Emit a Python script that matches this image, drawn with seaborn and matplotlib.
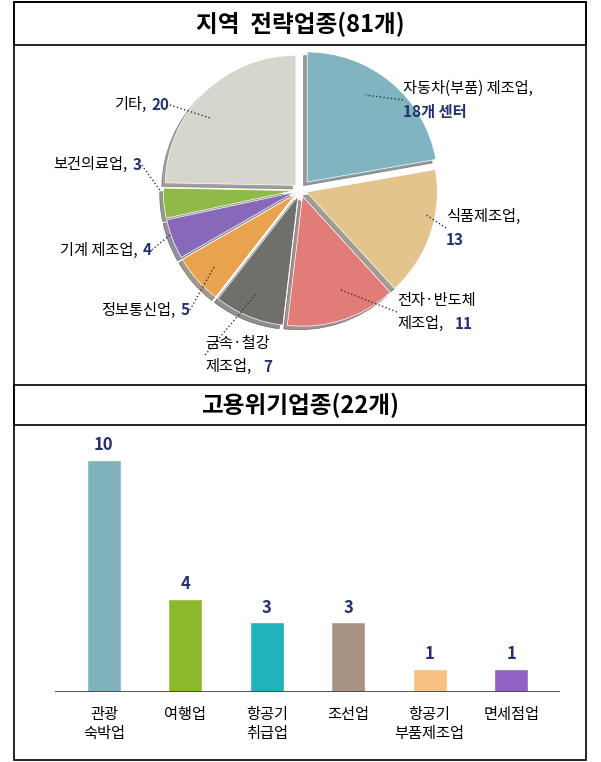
import matplotlib
matplotlib.use("Agg")
import matplotlib.pyplot as plt
import seaborn as sns
import pandas as pd
from matplotlib.patches import Rectangle

plt.rcParams["font.family"] = ["Noto Sans CJK KR", "Noto Sans CJK JP", "Noto Sans CJK SC", "Noto Sans CJK TC", "DejaVu Sans"]

pie_labels = ["자동차(부품) 제조업,", "식품제조업,", "전자·반도체\n제조업,", "금속·철강\n제조업,", "정보통신업,", "기계 제조업,", "보건의료업,", "기타,"]
pie_values = [18, 13, 11, 7, 5, 4, 3, 20]
pie_value_text = ["18개 센터", "13", "11", "7", "5", "4", "3", "20"]
pie_colors = ["#7fb4c0", "#e2c48c", "#e27c78", "#6f6f6b", "#e9a24e", "#8868b8", "#8fba48", "#d6d6cc"]

bar_cats = ["관광\n숙박업", "여행업", "항공기\n취급업", "조선업", "항공기\n부품제조업", "면세점업"]
bar_values = [10, 4, 3, 3, 1, 1]
bar_colors = ["#7fb2ba", "#8ab92e", "#1fb3bb", "#a89283", "#f7c182", "#9262c2"]

W, H = 601, 762
fig = plt.figure(figsize=(W / 100, H / 100), dpi=100)
navy = "#25306e"

def box(x0, y0, x1, y1, lw=1.2):
    fig.patches.append(Rectangle((x0 / W, 1 - y1 / H), (x1 - x0) / W, (y1 - y0) / H,
                                 transform=fig.transFigure, fill=False, ec="black", lw=lw))

box(14, 2, 586, 760)
box(14, 2, 586, 45)
box(14, 385, 586, 425)
fig.text(300 / W, 1 - 24 / H, "지역  전략업종(81개)", ha="center", va="center", fontsize=17, fontweight="bold")
fig.text(300 / W, 1 - 405 / H, "고용위기업종(22개)", ha="center", va="center", fontsize=17, fontweight="bold", style="italic")

# pie
ax = fig.add_axes([0.0, 1 - 385 / H, 1, 340 / H])
explode = [0.08, 0.05, 0.05, 0.05, 0.05, 0.05, 0.05, 0.05]
ax.pie(pie_values, colors=pie_colors, startangle=90, counterclock=False, explode=explode,
       shadow=True, radius=1, wedgeprops=dict(lw=0.5, ec="white"))
ax.set_xlim(-2.3, 2.3)
ax.set_ylim(-1.5, 1.115)
ax.set_aspect("auto")
ax.axis("off")

def px(x, y):
    return ((x - 300) / 130, (190 - y) / 130)

label_pos = [(402, 100, "left"), (445, 228, "left"), (396, 312, "left"), (205, 355, "left"),
             (190, 310, "right"), (152, 250, "right"), (142, 165, "right"), (170, 105, "right")]
anchors = [(365, 95), (425, 215), (340, 290), (255, 295), (215, 265), (170, 235), (160, 190), (210, 118)]
for (x, y, ha), lab, v, a in zip(label_pos, pie_labels, pie_value_text, anchors):
    tx, ty = px(x, y)
    if "\n" in lab:
        l1, l2 = lab.split("\n")
        ax.text(tx, ty + 0.09, l1, ha=ha, va="center", fontsize=11)
        ax.text(tx, ty - 0.09, l2, ha=ha, va="center", fontsize=11)
        off = 0.115 * (len(l2) - 1) + 0.1
        ax.text(tx + off, ty - 0.09, v, ha="left", va="center", fontsize=11, color=navy, fontweight="bold")
    elif ha == "left":
        ax.text(tx, ty + 0.09, lab, ha="left", va="center", fontsize=11)
        ax.text(tx, ty - 0.09, v, ha="left", va="center", fontsize=11, color=navy, fontweight="bold")
    else:
        ax.text(tx, ty, v, ha="right", va="center", fontsize=11, color=navy, fontweight="bold")
        ax.text(tx - 0.07 * len(v) - 0.04, ty, lab, ha="right", va="center", fontsize=11)
    ax.plot(*zip(px(x, y), px(*a)), ls=":", color="#333", lw=1)

# bars
bx = fig.add_axes([55 / W, 1 - 692 / H, 505 / W, 260 / H])
df = pd.DataFrame({"cat": bar_cats, "val": bar_values})
sns.barplot(data=df, x="cat", y="val", hue="cat", palette=bar_colors, legend=False, ax=bx,
            width=0.42, edgecolor="white", linewidth=1, saturation=1)
for i, v in enumerate(bar_values):
    bx.text(i, v + 0.25, str(v), ha="center", va="bottom", fontsize=12, fontweight="bold", color=navy)
bx.set_ylim(0, 11.2)
bx.set_xlim(-0.6, 5.6)
bx.axhline(0, color="#444", lw=2)
bx.set_xlabel("")
bx.set_ylabel("")
bx.set_yticks([])
bx.tick_params(axis="x", length=0, labelsize=11, pad=10)
for s in bx.spines.values():
    s.set_visible(False)

fig.savefig("out.png", dpi=100)
